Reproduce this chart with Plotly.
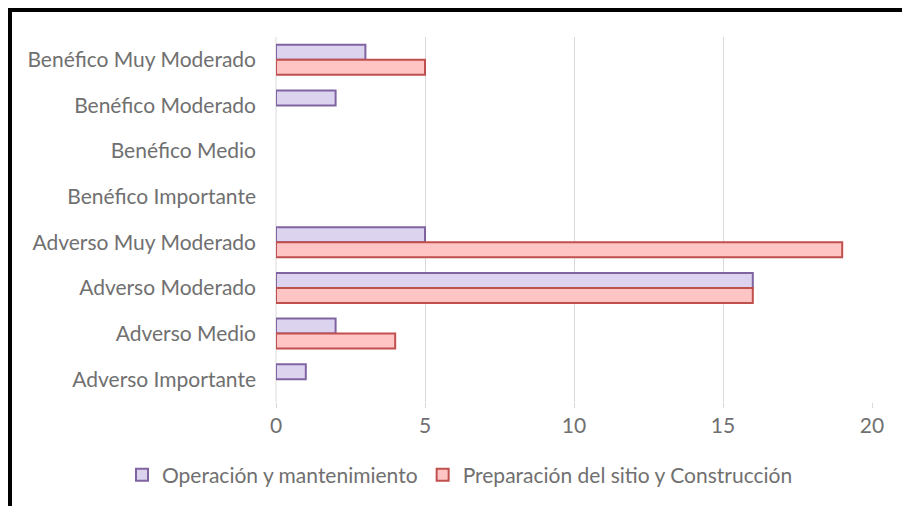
import plotly.graph_objects as go

categories = ["Benéfico Muy Moderado", "Benéfico Moderado", "Benéfico Medio", "Benéfico Importante",
              "Adverso Muy Moderado", "Adverso Moderado", "Adverso Medio", "Adverso Importante"]
operacion = [3, 2, 0, 0, 5, 16, 2, 1]
preparacion = [5, 0, 0, 0, 19, 16, 4, 0]
x_ticks = [0, 5, 10, 15, 20]

FONT = "Lato"
GRAY = "#707070"
FS = 21


def nz(vals):
    # zero-length bars are not drawn in the reference
    return [v if v else None for v in vals]


fig = go.Figure()
fig.add_trace(go.Bar(y=categories, x=nz(operacion), orientation="h", name="Operación y mantenimiento",
                     marker=dict(color="#dcd3ee", line=dict(color="#8064a2", width=2))))
fig.add_trace(go.Bar(y=categories, x=nz(preparacion), orientation="h", name="Preparación del sitio y Construcción",
                     marker=dict(color="#ffc4c4", line=dict(color="#c0504d", width=2))))

L, R, T, B = 276, 872, 37, 403
W, H = 902, 506
def px(x): return (x - L) / (R - L)
def py(y): return (B - y) / (B - T)

fig.update_layout(
    width=W, height=H,
    margin=dict(l=L, r=W - R, t=T, b=H - B),
    paper_bgcolor="white", plot_bgcolor="white",
    barmode="group", bargap=0.34, bargroupgap=0,
    font=dict(family=FONT, size=FS, color=GRAY),
    xaxis=dict(range=[0, 20], tickvals=x_ticks, showgrid=True, gridcolor="#d9d9d9", gridwidth=1,
               zeroline=False, showline=False, ticks="outside", ticklen=5, tickcolor="#d9d9d9",
               ticklabelstandoff=0, tickfont=dict(size=FS, color=GRAY)),
    yaxis=dict(autorange="reversed", showgrid=False, zeroline=False, showline=False,
               ticks="", ticklabelstandoff=19, tickfont=dict(size=FS, color=GRAY)),
    legend=dict(orientation="h", x=px(122), xanchor="left", y=py(475), yanchor="middle",
                font=dict(size=FS, color=GRAY), itemwidth=30),
    showlegend=True,
    shapes=[
        dict(type="line", xref="paper", yref="paper", x0=px(8), x1=px(910), y0=py(10), y1=py(10),
             line=dict(color="black", width=4)),
        dict(type="line", xref="paper", yref="paper", x0=px(10), x1=px(10), y0=py(8), y1=py(540),
             line=dict(color="black", width=4)),
        dict(type="line", xref="paper", yref="paper", x0=0, x1=0, y0=0, y1=1,
             line=dict(color="#d9d9d9", width=1), layer="below"),
    ],
)

fig.write_html("out.html", config={"displayModeBar": False},
               post_script="document.body.style.margin='0';document.body.style.overflow='hidden';")
